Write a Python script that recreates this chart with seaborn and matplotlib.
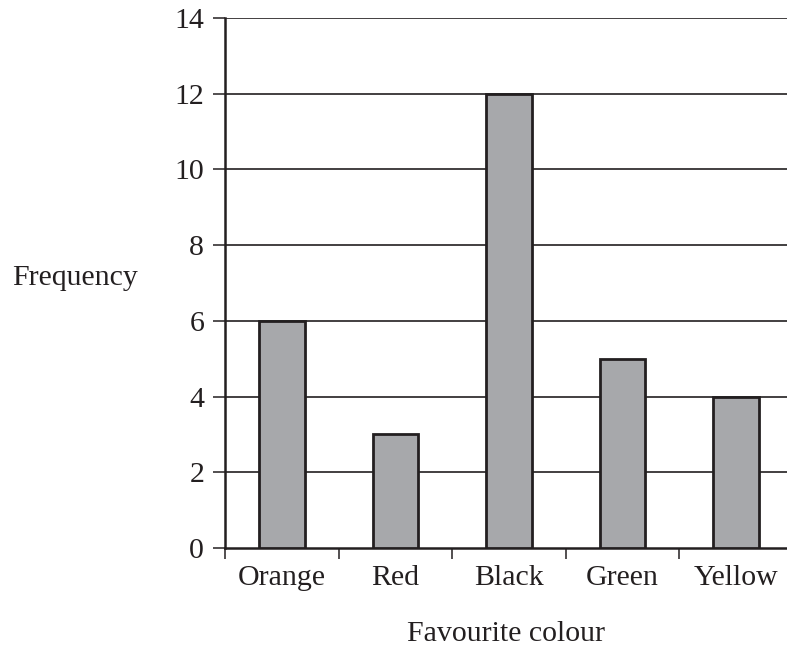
import matplotlib
matplotlib.use("Agg")
import matplotlib.pyplot as plt
import seaborn as sns
import pandas as pd
import numpy as np

colours = ["Orange", "Red", "Black", "Green", "Yellow"]
frequency = [6, 3, 12, 5, 4]

df = pd.DataFrame({"colour": colours, "freq": frequency})

sns.set_style("white")
plt.rcParams['font.family'] = ['Liberation Serif', 'DejaVu Serif']
ink = "#231f20"

fig = plt.figure(figsize=(7.87, 6.57), dpi=100)
ax = fig.add_axes([225/787, 1-548/657, 568/787, 530/657])

sns.barplot(data=df, x="colour", y="freq", color="#a7a8ab", saturation=1,
            width=0.4, edgecolor=ink, linewidth=2.0, ax=ax, zorder=3)

ax.set_ylim(0, 14)
ax.set_xlim(-0.5, 4.5)
ax.set_yticks(np.arange(0, 15, 2))
for y in range(2, 15, 2):
    ax.axhline(y, color=ink, lw=1.2, zorder=1)

ax.set_xticks(np.arange(-0.5, 5, 1), minor=True)
ax.tick_params(axis="x", which="both", bottom=True)
ax.tick_params(axis="y", which="both", left=True)
ax.tick_params(axis="x", which="major", length=0, pad=12, labelsize=21.5, colors=ink)
ax.tick_params(axis="x", which="minor", length=8, width=1.1, color=ink, direction="out")
ax.tick_params(axis="y", length=9, width=1.1, color=ink, pad=6, labelsize=21.5,
               labelcolor=ink, direction="out")

for s in ["top", "right"]:
    ax.spines[s].set_visible(False)
ax.spines["left"].set_linewidth(1.8)
ax.spines["bottom"].set_linewidth(1.8)
ax.spines["left"].set_color(ink)
ax.spines["bottom"].set_color(ink)

ax.set_ylabel("Frequency", rotation=0, fontsize=21.5, color=ink, ha="center", va="center")
ax.yaxis.set_label_coords((75-225)/568, (548-278)/530)
ax.set_xlabel("Favourite colour", fontsize=21.5, color=ink, va="center")
ax.xaxis.set_label_coords(0.5 - 3/568, (548-634)/530)

fig.savefig("out.png", dpi=100)
